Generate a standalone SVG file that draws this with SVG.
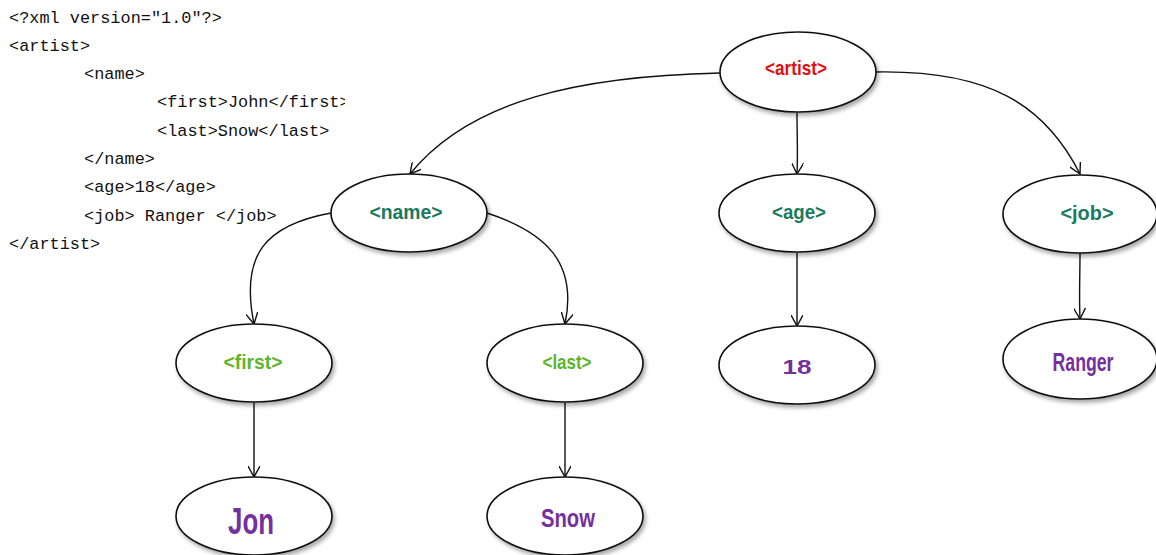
<svg xmlns="http://www.w3.org/2000/svg" width="1156" height="555" viewBox="0 0 1156 555">
  <defs>
    <style>
      .code { font-family: "Liberation Mono", "DejaVu Sans Mono", monospace; font-size: 16.9px; fill: #111; }
      .node ellipse { fill: #fff; stroke: #111; stroke-width: 1.6; filter: url(#shadow); }
      .lbl { font-family: "Liberation Sans", Arial, sans-serif; font-weight: bold; text-anchor: middle; dominant-baseline: central; }
      .tag-root { fill: #e01010; font-size: 21px; }
      .tag-mid { fill: #1a7a60; font-size: 20px; }
      .tag-leaf { fill: #5cb52c; font-size: 21px; }
      .val { fill: #74309c; }
      .edge { fill: none; stroke: #111; stroke-width: 1.4; marker-end: url(#open-arrow); }
    </style>
    <marker id="open-arrow" viewBox="0 0 12 12" refX="11" refY="6" markerWidth="12" markerHeight="12" markerUnits="userSpaceOnUse" orient="auto">
      <path d="M0,0 L11,6 L0,12" fill="none" stroke="#111" stroke-width="1.4"/>
    </marker>
    <filter id="shadow" x="-20%" y="-20%" width="150%" height="150%">
      <feGaussianBlur in="SourceAlpha" stdDeviation="2"/>
      <feOffset dx="2" dy="3" result="b"/>
      <feComponentTransfer><feFuncA type="linear" slope="0.35"/></feComponentTransfer>
      <feMerge><feMergeNode/><feMergeNode in="SourceGraphic"/></feMerge>
    </filter>
    <clipPath id="code-clip"><rect x="0" y="0" width="345" height="260"/></clipPath>
  </defs>

  <rect width="1156" height="555" fill="#fff"/>

  <!-- XML source listing -->
  <g id="source" class="code" clip-path="url(#code-clip)">
    <text x="9" y="23">&lt;?xml version="1.0"?&gt;</text>
    <text x="9" y="51">&lt;artist&gt;</text>
    <text x="84" y="79">&lt;name&gt;</text>
    <text x="157" y="107">&lt;first&gt;John&lt;/first&gt;</text>
    <text x="157" y="136">&lt;last&gt;Snow&lt;/last&gt;</text>
    <text x="84" y="164">&lt;/name&gt;</text>
    <text x="84" y="192">&lt;age&gt;18&lt;/age&gt;</text>
    <text x="84" y="221">&lt;job&gt; Ranger &lt;/job&gt;</text>
    <text x="9" y="249">&lt;/artist&gt;</text>
  </g>

  <!-- tree edges -->
  <g id="connectors">
    <path class="edge" d="M720,73 C580,76 470,100 410,174"/>
    <path class="edge" d="M797,113 C797,135 798,155 797,174"/>
    <path class="edge" d="M876,72 C990,70 1045,105 1080,174"/>
    <path class="edge" d="M331,213 C265,225 240,255 254,324"/>
    <path class="edge" d="M487,213 C545,232 578,262 565,324"/>
    <path class="edge" d="M254,403 L254,477"/>
    <path class="edge" d="M565,403 L565,477"/>
    <path class="edge" d="M797,253 L797,326"/>
    <path class="edge" d="M1080,253 C1080,275 1079,295 1080,319"/>
  </g>

  <!-- tree nodes; labels squeezed to a condensed face with textLength -->
  <g id="node-artist" class="node">
    <ellipse cx="798" cy="72" rx="78" ry="40"/>
    <text class="lbl tag-root" x="796" y="67" textLength="62" lengthAdjust="spacingAndGlyphs">&lt;artist&gt;</text>
  </g>
  <g id="node-name" class="node">
    <ellipse cx="409" cy="213" rx="78" ry="39"/>
    <text class="lbl tag-mid" x="406" y="212" textLength="73" lengthAdjust="spacingAndGlyphs">&lt;name&gt;</text>
  </g>
  <g id="node-age" class="node">
    <ellipse cx="797" cy="213" rx="78" ry="39"/>
    <text class="lbl tag-mid" x="799" y="212" textLength="54" lengthAdjust="spacingAndGlyphs">&lt;age&gt;</text>
  </g>
  <g id="node-job" class="node">
    <ellipse cx="1080" cy="214" rx="77" ry="39"/>
    <text class="lbl tag-mid" x="1087" y="213" textLength="53" lengthAdjust="spacingAndGlyphs">&lt;job&gt;</text>
  </g>
  <g id="node-first" class="node">
    <ellipse cx="254" cy="363" rx="78" ry="39"/>
    <text class="lbl tag-leaf" x="253" y="361" textLength="59" lengthAdjust="spacingAndGlyphs">&lt;first&gt;</text>
  </g>
  <g id="node-last" class="node">
    <ellipse cx="565" cy="363" rx="78" ry="39"/>
    <text class="lbl tag-leaf" x="567" y="361" textLength="49" lengthAdjust="spacingAndGlyphs">&lt;last&gt;</text>
  </g>
  <g id="node-18" class="node">
    <ellipse cx="797" cy="365" rx="78" ry="39"/>
    <text class="lbl val" x="797" y="367" font-size="20" textLength="29" lengthAdjust="spacingAndGlyphs">18</text>
  </g>
  <g id="node-ranger" class="node">
    <ellipse cx="1080" cy="359" rx="77" ry="40"/>
    <text class="lbl val" x="1083" y="362" font-size="25" textLength="61" lengthAdjust="spacingAndGlyphs">Ranger</text>
  </g>
  <g id="node-jon" class="node">
    <ellipse cx="254" cy="516" rx="78" ry="39"/>
    <text class="lbl val" x="251" y="521" font-size="37" textLength="46" lengthAdjust="spacingAndGlyphs">Jon</text>
  </g>
  <g id="node-snow" class="node">
    <ellipse cx="565" cy="516" rx="78" ry="39"/>
    <text class="lbl val" x="568" y="518" font-size="25" textLength="54" lengthAdjust="spacingAndGlyphs">Snow</text>
  </g>
</svg>
